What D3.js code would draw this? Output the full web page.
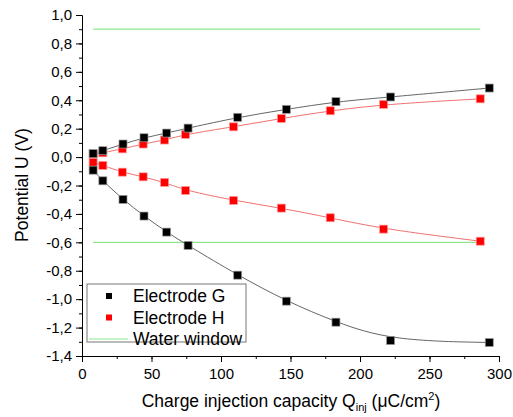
<!DOCTYPE html>
<html>
<head>
<meta charset="utf-8">
<script src="https://cdn.jsdelivr.net/npm/d3@7"></script>
<style>
  body { margin: 0; background: #fff; }
  svg { font-family: "Liberation Sans", Arial, sans-serif; }
</style>
</head>
<body>
<div id="chart"></div>
<script>
var width = 513;
var height = 417;

// data
var gUpX = [8, 15, 29.5, 44.6, 60.9, 76.3, 112, 147, 182.7, 222, 293];
var gUpY = [0.025, 0.045, 0.092, 0.136, 0.169, 0.204, 0.28, 0.336, 0.39, 0.423, 0.486];
var gDownX = [8, 15, 29.5, 44.6, 60.9, 76.3, 112, 147, 182.7, 222, 293];
var gDownY = [-0.092, -0.167, -0.298, -0.415, -0.528, -0.622, -0.831, -1.014, -1.162, -1.291, -1.305];
var hUpX = [8, 15, 29, 44, 59.4, 74.5, 109, 143.4, 178.6, 217, 286.5];
var hUpY = [0.02, 0.03, 0.058, 0.092, 0.12, 0.16, 0.213, 0.272, 0.326, 0.371, 0.41];
var hDownX = [8, 15, 29, 44, 59.4, 74.5, 109, 143.4, 178.6, 217, 286.5];
var hDownY = [-0.037, -0.059, -0.106, -0.139, -0.178, -0.235, -0.305, -0.359, -0.427, -0.507, -0.592];
var waterX = [8, 286.5];
var waterLevels = [0.9, -0.6];

var xTicks = [0, 50, 100, 150, 200, 250, 300];
var yTicks = [1.0, 0.8, 0.6, 0.4, 0.2, 0.0, -0.2, -0.4, -0.6, -0.8, -1.0, -1.2, -1.4];
var legendNames = ["Electrode G", "Electrode H", "Water window"];

var svg = d3.select("#chart")
    .append("svg")
    .attr("width", width)
    .attr("height", height);

var x = d3.scaleLinear().domain([0, 300]).range([82, 499]);
var y = d3.scaleLinear().domain([-1.4, 1.0]).range([356, 15]);

var fmt = function(d){ return d3.format(".1f")(d).replace(".", ",").replace("−", "-"); };

// axes
var xAxis = svg.append("g").attr("transform", "translate(0," + y(-1.4) + ")");
xAxis.call(d3.axisBottom(x).tickValues(d3.range(0, 301, 25)).tickSize(3).tickFormat(""));
xAxis.call(function(g){
  g.append("g").call(d3.axisBottom(x).tickValues(xTicks).tickSize(6).tickPadding(6))
    .select(".domain").remove();
});
xAxis.selectAll("text").attr("font-size", 15).attr("fill", "#000")
    .attr("font-family", "Liberation Sans, Arial, sans-serif");
xAxis.selectAll("path, line").attr("stroke", "#000");

var yAxis = svg.append("g").attr("transform", "translate(" + x(0) + ",0)");
yAxis.call(d3.axisLeft(y).tickValues(d3.range(-14, 11).map(function(d){ return d / 10; })).tickSize(3).tickFormat(""));
yAxis.call(function(g){
  g.append("g").call(d3.axisLeft(y).tickValues(yTicks).tickSize(6).tickPadding(4).tickFormat(fmt))
    .select(".domain").remove();
});
yAxis.selectAll("text").attr("font-size", 15).attr("fill", "#000")
    .attr("font-family", "Liberation Sans, Arial, sans-serif");
yAxis.selectAll("path, line").attr("stroke", "#000");

// axis titles
var xt = svg.append("text")
    .attr("x", 291)
    .attr("y", 407)
    .attr("text-anchor", "middle")
    .attr("font-size", 17.5);
xt.append("tspan").text("Charge injection capacity Q");
xt.append("tspan").attr("font-size", 11).attr("dy", 4).text("inj");
xt.append("tspan").attr("dy", -4).text(" (\u03bcC/cm");
xt.append("tspan").attr("font-size", 11).attr("dy", -7).text("2");
xt.append("tspan").attr("dy", 7).text(")");

svg.append("text")
    .attr("transform", "translate(28,185) rotate(-90)")
    .attr("text-anchor", "middle")
    .attr("font-size", 17.5)
    .text("Potential U (V)");

// water window
waterLevels.forEach(function(v){
  svg.append("path")
      .attr("d", d3.line()([[x(waterX[0]), y(v)], [x(waterX[1]), y(v)]]))
      .attr("stroke", "#8ee68e")
      .attr("stroke-width", 1.2)
      .attr("fill", "none");
});

var line = d3.line()
    .x(function(d){ return x(d[0]); })
    .y(function(d){ return y(d[1]); })
    .curve(d3.curveBasis);

var series = [
  { xs: gUpX, ys: gUpY, line: "#666", fill: "#000", stroke: "#999" },
  { xs: gDownX, ys: gDownY, line: "#666", fill: "#000", stroke: "#999" },
  { xs: hUpX, ys: hUpY, line: "#f07070", fill: "#ff0000", stroke: "#f99" },
  { xs: hDownX, ys: hDownY, line: "#f07070", fill: "#ff0000", stroke: "#f99" }
];

// red first so black sits on top
[2, 3, 0, 1].forEach(function(i){
  var s = series[i];
  var pts = s.xs.map(function(v, k){ return [v, s.ys[k]]; });
  svg.append("path")
      .attr("d", line(pts))
      .attr("stroke", s.line)
      .attr("stroke-width", 1)
      .attr("fill", "none");
});
[2, 3, 0, 1].forEach(function(i){
  var s = series[i];
  var pts = s.xs.map(function(v, k){ return [v, s.ys[k]]; });
  svg.append("g").selectAll("rect")
      .data(pts)
      .enter()
      .append("rect")
      .attr("x", function(d){ return x(d[0]) - 4; })
      .attr("y", function(d){ return y(d[1]) - 4; })
      .attr("width", 8)
      .attr("height", 8)
      .attr("fill", s.fill)
      .attr("stroke", s.stroke)
      .attr("stroke-width", 0.7);
});

// legend
var lg = svg.append("g");
lg.append("rect")
    .attr("x", 87).attr("y", 284)
    .attr("width", 159).attr("height", 58)
    .attr("fill", "#fff")
    .attr("stroke", "#777");
var legColors = ["#000", "#ff0000"];
legendNames.forEach(function(name, i){
  var cy = 296 + i * 21.5;
  if (i < 2) {
    lg.append("rect")
        .attr("x", 106).attr("y", cy - 3)
        .attr("width", 6).attr("height", 6)
        .attr("fill", legColors[i]);
  } else {
    lg.append("line")
        .attr("x1", 89).attr("x2", 128)
        .attr("y1", cy).attr("y2", cy)
        .attr("stroke", "#8ee68e")
        .attr("stroke-width", 1.2);
  }
  lg.append("text")
      .attr("x", 133)
      .attr("y", cy + 6)
      .attr("font-size", 17.5)
      .text(name);
});
</script>
</body>
</html>
